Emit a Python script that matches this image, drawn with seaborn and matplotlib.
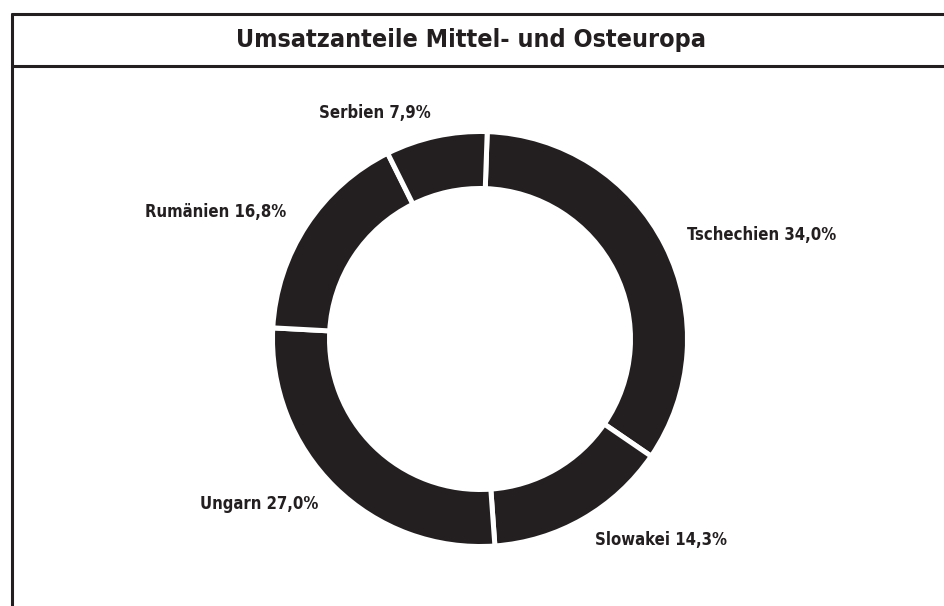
"""
Umsatzanteile Mittel- und Osteuropa: Donut-Diagramm
"""
import matplotlib
matplotlib.use("Agg")
import numpy as np
import matplotlib.pyplot as plt
from matplotlib.lines import Line2D
import seaborn as sns

# Daten
countries = ["Tschechien", "Slowakei", "Ungarn", "Rumänien", "Serbien"]
shares = [34.0, 14.3, 27.0, 16.8, 7.9]

TITLE = "Umsatzanteile Mittel- und Osteuropa"
INK = "#231f20"

sns.set_theme(style="white")
plt.rcParams["font.family"] = ["DejaVu Sans"]

W, H = 944, 606
fig = plt.figure(figsize=(W / 100, H / 100), dpi=100)
fig.patch.set_facecolor("white")

# Achse in Pixelkoordinaten (y nach oben)
ax = fig.add_axes([0, 0, 1, 1])

labels = [f"{c} {v:.1f}%".replace(".", ",") for c, v in zip(countries, shares)]
outer_r = 207.5
ring_w = 57

wedges, texts = ax.pie(
    shares,
    labels=labels,
    startangle=88,
    counterclock=False,
    colors=[INK] * len(shares),
    center=(480, H - 339),
    radius=outer_r,
    labeldistance=1.115,
    wedgeprops=dict(width=ring_w, edgecolor="white", linewidth=3.6),
    textprops=dict(fontsize=12, fontweight="bold", color=INK, fontstretch="condensed"),
)

# Ausrichtung relativ zum Mittelpunkt korrigieren
for w, t in zip(wedges, texts):
    mid = np.deg2rad((w.theta1 + w.theta2) / 2)
    t.set_ha("left" if np.cos(mid) > 0 else "right")

ax.set_xlim(0, W)
ax.set_ylim(0, H)
ax.set_aspect("equal")
ax.axis("off")

# Rahmen
lw = 2.2
fig.add_artist(Line2D([12 / W, 1], [1 - 14 / H, 1 - 14 / H], color=INK, lw=lw))
fig.add_artist(Line2D([12 / W, 1], [1 - 66 / H, 1 - 66 / H], color=INK, lw=lw))
fig.add_artist(Line2D([12 / W, 12 / W], [0, 1 - 14 / H], color=INK, lw=lw))

fig.text(471 / W, 1 - 40 / H, TITLE, ha="center", va="center", fontsize=18,
         fontweight="bold", fontstretch="condensed", color=INK)

plt.savefig("out.png", dpi=100, facecolor="white")
plt.close()
